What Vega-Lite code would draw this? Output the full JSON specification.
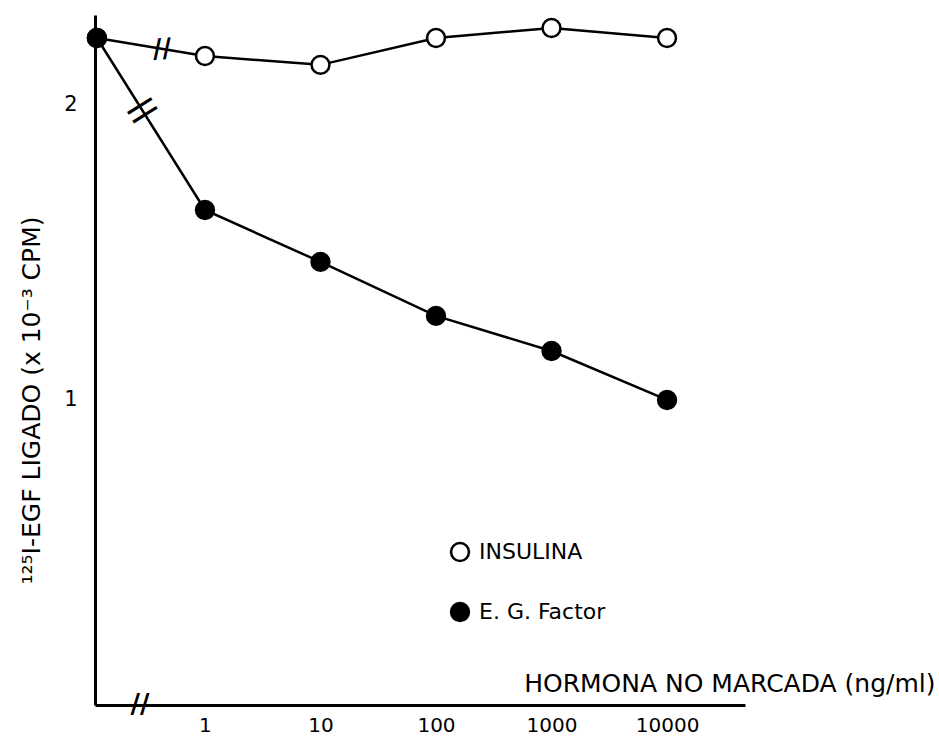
{
  "$schema": "https://vega.github.io/schema/vega-lite/v6.json",
  "width": 650,
  "height": 690,
  "autosize": {"type": "none"},
  "padding": {"left": 95, "top": 15, "right": 194, "bottom": 34},
  "background": "white",
  "config": {"font": "DejaVu Sans", "view": {"stroke": null}},
  "datasets": {
    "main": [
      {"series": "INSULINA", "dose": 0.116, "value": 2.227},
      {"series": "INSULINA", "dose": 1, "value": 2.166},
      {"series": "INSULINA", "dose": 10, "value": 2.136},
      {"series": "INSULINA", "dose": 100, "value": 2.227},
      {"series": "INSULINA", "dose": 1000, "value": 2.261},
      {"series": "INSULINA", "dose": 10000, "value": 2.227},
      {"series": "E. G. Factor", "dose": 0.116, "value": 2.227},
      {"series": "E. G. Factor", "dose": 1, "value": 1.644},
      {"series": "E. G. Factor", "dose": 10, "value": 1.468},
      {"series": "E. G. Factor", "dose": 100, "value": 1.285},
      {"series": "E. G. Factor", "dose": 1000, "value": 1.166},
      {"series": "E. G. Factor", "dose": 10000, "value": 1.0}
    ],
    "breaks": [
      {"kind": "axis", "dose": 0.274, "value": -0.034},
      {"kind": "ins", "dose": 0.4245, "value": 2.19},
      {"kind": "egf", "dose": 0.29, "value": 1.983}
    ]
  },
  "encoding": {
    "x": {
      "field": "dose",
      "type": "quantitative",
      "scale": {"type": "log", "domain": [0.1117, 47300], "nice": false, "zero": false},
      "axis": {
        "values": [1, 10, 100, 1000, 10000],
        "format": "d",
        "ticks": false,
        "grid": false,
        "domainColor": "black",
        "domainWidth": 3,
        "labelFontSize": 20,
        "labelColor": "black",
        "labelPadding": 10,
        "labelFlush": false,
        "labelOverlap": false,
        "title": "HORMONA NO MARCADA (ng/ml)",
        "titleFontSize": 25,
        "titleFontWeight": "normal",
        "titleColor": "black",
        "titleX": 840,
        "titleY": -22,
        "titleAlign": "right",
        "titleBaseline": "middle"
      }
    },
    "y": {
      "field": "value",
      "type": "quantitative",
      "scale": {"domain": [-0.034, 2.305], "nice": false, "zero": false},
      "axis": {
        "values": [1, 2],
        "ticks": false,
        "grid": false,
        "domainColor": "black",
        "domainWidth": 3,
        "labelFontSize": 21,
        "labelColor": "black",
        "labelPadding": 18,
        "title": "¹²⁵I-EGF LIGADO (x 10⁻³ CPM)",
        "titleFontSize": 25,
        "titleFontWeight": "normal",
        "titleColor": "black",
        "titleAngle": 270,
        "titleX": -64,
        "titleY": 385,
        "titleAlign": "center",
        "titleBaseline": "middle"
      }
    }
  },
  "layer": [
    {
      "data": {"name": "main"},
      "mark": {"type": "line", "color": "black", "strokeWidth": 2.5},
      "encoding": {"detail": {"field": "series"}}
    },
    {
      "data": {"name": "main"},
      "mark": {"type": "point", "shape": "circle", "filled": true, "stroke": "black", "strokeWidth": 2.5, "size": 320, "opacity": 1},
      "encoding": {
        "fill": {
          "field": "series",
          "type": "nominal",
          "scale": {"domain": ["INSULINA", "E. G. Factor"], "range": ["white", "black"]},
          "legend": {
            "orient": "none",
            "legendX": 354,
            "legendY": 526,
            "title": null,
            "symbolType": "circle",
            "symbolSize": 320,
            "symbolStrokeColor": "black",
            "symbolStrokeWidth": 2.5,
            "labelFontSize": 22,
            "labelColor": "black",
            "labelOffset": 8,
            "rowPadding": 32
          }
        }
      }
    },
    {
      "data": {"name": "breaks"},
      "transform": [{"filter": "datum.kind === 'axis'"}],
      "mark": {"type": "text", "text": "//", "fontSize": 26, "fontWeight": "bold", "align": "center", "baseline": "middle", "color": "black"}
    },
    {
      "data": {"name": "breaks"},
      "transform": [{"filter": "datum.kind === 'ins'"}],
      "mark": {"type": "text", "text": "//", "fontSize": 26, "fontWeight": "bold", "align": "center", "baseline": "middle", "color": "black", "angle": -5}
    },
    {
      "data": {"name": "breaks"},
      "transform": [{"filter": "datum.kind === 'egf'"}],
      "mark": {"type": "text", "text": "||", "fontSize": 28, "fontWeight": "bold", "align": "center", "baseline": "middle", "color": "black", "angle": 58}
    }
  ]
}
